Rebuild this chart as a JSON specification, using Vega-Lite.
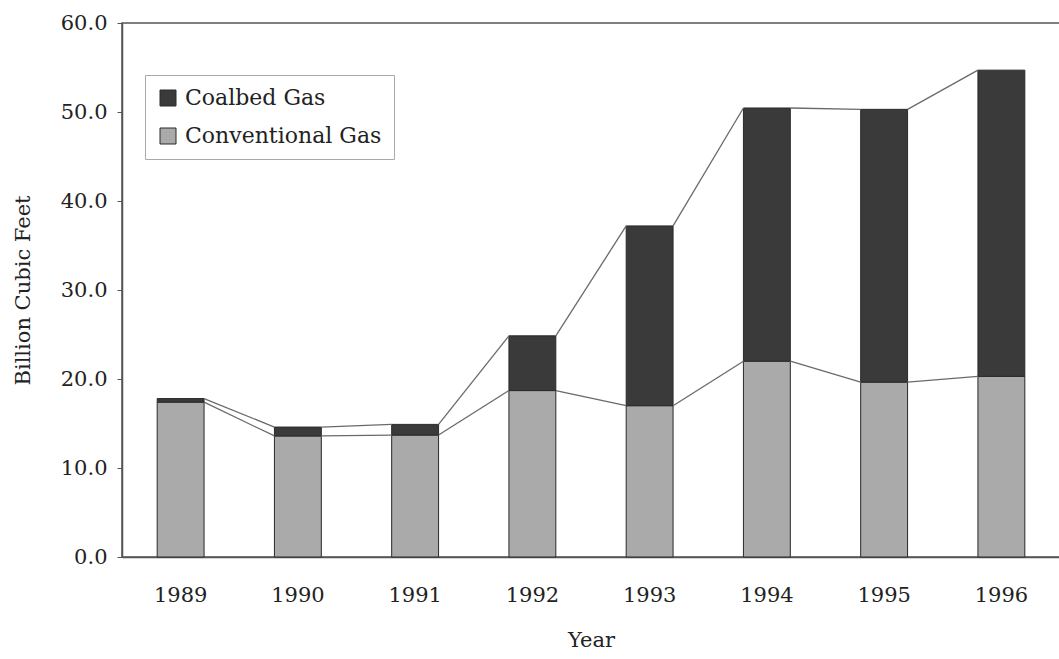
{
  "$schema": "https://vega.github.io/schema/vega-lite/v6.json",
  "width": 938,
  "height": 534,
  "autosize": "none",
  "padding": {"left": 122, "top": 23, "right": 0, "bottom": 102},
  "background": "white",
  "config": {
    "view": {"stroke": "#555555", "strokeWidth": 1.5},
    "font": "DejaVu Serif",
    "axis": {"domainColor": "#555555", "domainWidth": 1.5, "labelColor": "#222222", "titleColor": "#222222", "grid": false}
  },
  "datasets": {
    "gas": [
      {"year": "1989", "type": "Conventional Gas", "value": 17.4},
      {"year": "1989", "type": "Coalbed Gas", "value": 0.4},
      {"year": "1990", "type": "Conventional Gas", "value": 13.6},
      {"year": "1990", "type": "Coalbed Gas", "value": 1.0},
      {"year": "1991", "type": "Conventional Gas", "value": 13.7},
      {"year": "1991", "type": "Coalbed Gas", "value": 1.2},
      {"year": "1992", "type": "Conventional Gas", "value": 18.7},
      {"year": "1992", "type": "Coalbed Gas", "value": 6.15},
      {"year": "1993", "type": "Conventional Gas", "value": 17.0},
      {"year": "1993", "type": "Coalbed Gas", "value": 20.2},
      {"year": "1994", "type": "Conventional Gas", "value": 22.0},
      {"year": "1994", "type": "Coalbed Gas", "value": 28.45},
      {"year": "1995", "type": "Conventional Gas", "value": 19.65},
      {"year": "1995", "type": "Coalbed Gas", "value": 30.65},
      {"year": "1996", "type": "Conventional Gas", "value": 20.3},
      {"year": "1996", "type": "Coalbed Gas", "value": 34.4}
    ]
  },
  "layer": [
    {
      "data": {"name": "gas"},
      "mark": {"type": "bar", "stroke": "#2a2a2a", "strokeWidth": 1},
      "encoding": {
        "x": {
          "field": "year", "type": "ordinal",
          "scale": {"paddingInner": 0.6, "paddingOuter": 0.3},
          "axis": {"title": "Year", "labelAngle": 0, "ticks": false, "labelPadding": 27, "labelFontSize": 21, "titleFontSize": 21, "titleFontWeight": "normal", "titlePadding": 24, "labelFont": "DejaVu Serif", "titleFont": "DejaVu Serif"}
        },
        "y": {
          "field": "value", "type": "quantitative", "stack": "zero",
          "scale": {"domain": [0, 60], "nice": false},
          "axis": {"title": "Billion Cubic Feet", "values": [0, 10, 20, 30, 40, 50, 60], "format": ".1f", "tickSize": 5, "tickColor": "#555555", "labelPadding": 10, "labelFontSize": 21, "titleFontSize": 21, "titleFontWeight": "normal", "titlePadding": 27, "labelFont": "DejaVu Serif", "titleFont": "DejaVu Serif"}
        },
        "color": {
          "field": "type", "type": "nominal",
          "scale": {"domain": ["Coalbed Gas", "Conventional Gas"], "range": ["#3a3a3a", "#aaaaaa"]},
          "legend": {
            "title": null, "orient": "none", "legendX": 23, "legendY": 52,
            "padding": 12, "rowPadding": 16, "symbolType": "square", "symbolSize": 256,
            "symbolStrokeColor": "#2a2a2a", "symbolStrokeWidth": 1, "symbolOpacity": 1,
            "labelFontSize": 22, "labelFont": "DejaVu Serif", "labelColor": "#222222", "labelOffset": 6, "labelLimit": 400,
            "fillColor": "white", "strokeColor": "#aaaaaa"
          }
        },
        "order": {"field": "type", "sort": "descending"}
      }
    },
    {
      "data": {"name": "gas"},
      "transform": [
        {"window": [{"op": "sum", "field": "value", "as": "top"}], "groupby": ["year"], "sort": [{"field": "type", "order": "descending"}], "frame": [null, 0]},
        {"window": [{"op": "lead", "field": "year", "as": "next_year"}, {"op": "lead", "field": "top", "as": "next_top"}], "groupby": ["type"], "sort": [{"field": "year", "order": "ascending"}]},
        {"filter": "datum.next_year != null"}
      ],
      "mark": {"type": "rule", "color": "#6a6a6a", "strokeWidth": 1.3},
      "encoding": {
        "x": {"field": "year", "type": "ordinal", "bandPosition": 1},
        "x2": {"field": "next_year", "bandPosition": 0},
        "y": {"field": "top", "type": "quantitative"},
        "y2": {"field": "next_top"}
      }
    }
  ]
}
